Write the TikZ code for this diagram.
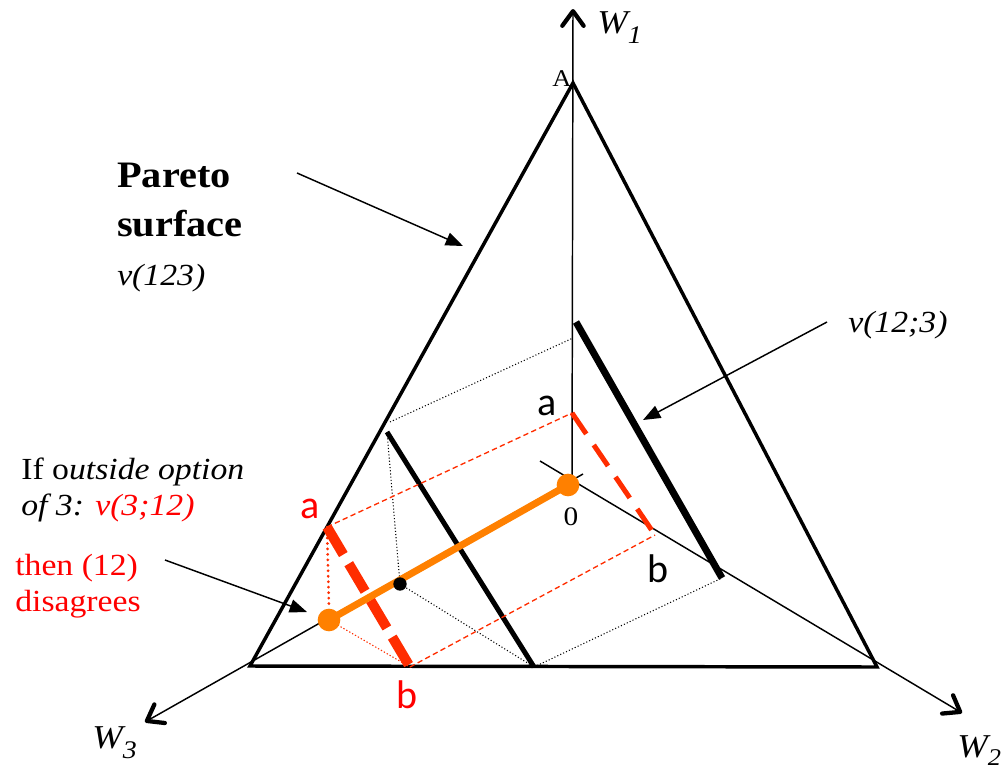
\documentclass[tikz,border=0pt]{standalone}
\usepackage{fontspec}
\setmainfont{Liberation Serif}[FakeStretch=1.1]
\newfontfamily\boldser{Liberation Serif}[FakeStretch=1.08]
\newfontfamily\sansf{Carlito}
\usetikzlibrary{arrows.meta}
\definecolor{txtred}{RGB}{255,0,0}
\definecolor{dashred}{RGB}{255,45,0}
\definecolor{orng}{RGB}{255,128,0}
\begin{document}
\begin{tikzpicture}[x=0.75pt,y=-0.75pt,
  axis/.style={line width=1.1pt,-{Straight Barb[length=11pt,width=16pt,line width=3.2pt,line cap=round,line join=round]}},
  pointer/.style={line width=1.1pt,-{Triangle[length=13pt,width=10pt]}},
  edgeline/.style={line width=2.6pt,line join=miter},
  dotline/.style={line width=0.8pt,dash pattern=on 0.8pt off 1.6pt},
  thinred/.style={dashred,line width=1pt,dash pattern=on 4pt off 2.5pt},
  ser/.style={font=\fontsize{23}{27}\selectfont},
  sans/.style={font=\sansf\fontsize{30}{34}\selectfont},
  wlab/.style={font=\fontsize{25}{28}\selectfont\itshape},
]
\useasboundingbox (0,0) rectangle (1003,771);
% coordinates
\coordinate (O) at (572,480);
\coordinate (A) at (573,83);
\coordinate (L) at (250,666);
\coordinate (R) at (877,667);
\coordinate (W1) at (573,9);
\coordinate (W2) at (962,713);
\coordinate (W3) at (145,722);
\coordinate (W2b) at (540,461);
\coordinate (W3b) at (583,474);
\coordinate (d1) at (390,422);
\coordinate (d2) at (573,338);
\coordinate (p1) at (387,432);
\coordinate (p2) at (534,667);
\coordinate (q1) at (576,322);
\coordinate (q2) at (722,578);
\coordinate (bd) at (400,584);
\coordinate (ra) at (327,527);
\coordinate (rb) at (410,667);
\coordinate (ra2) at (572,413);
\coordinate (rb2) at (655,535);
\coordinate (rv) at (329,608);
\coordinate (od1) at (329,620);
\coordinate (od2) at (568,485);
\coordinate (pt1) at (297,173);
\coordinate (ph1) at (463,246);
\coordinate (pt2) at (827,322);
\coordinate (ph2) at (643,420);
\coordinate (pt3) at (165,560);
\coordinate (ph3) at (307,612);
% triangle
\draw[edgeline] (A) -- (L) -- (R) -- cycle;
% axes
\draw[axis] (O) -- (W1);
\draw[axis] (W2b) -- (W2);
\draw[axis] (W3b) -- (W3);
% dotted box
\draw[dotline] (d1) -- (d2);
\draw[dotline] (p1) -- (bd) -- (p2) -- (q2);
% thick black lines
\draw[line width=3.75pt] (p1) -- (p2);
\draw[line width=5.25pt] (q1) -- (q2);
% red lines
\draw[thinred] (ra) -- (ra2);
\draw[thinred] (rb) -- (rb2);
\draw[dashred,line width=2.2pt,dash pattern=on 0.1pt off 4pt,line cap=round] (ra) -- (rv);
\draw[dashred,line width=0.8pt,dash pattern=on 1pt off 1.5pt] (od1) -- (rb);
\draw[dashred,line width=7.5pt,dash pattern=on 24pt off 8pt] (ra) -- (rb);
\draw[dashred,line width=3.75pt,dash pattern=on 19pt off 10pt] (ra2) -- (rb2);
% orange
\draw[orng,line width=5.25pt] (od1) -- (od2);
\fill[orng] (od1) circle (8.5pt);
\fill[orng] (od2) circle (8.5pt);
\fill[black] (bd) circle (5pt);
% pointers
\draw[pointer] (pt1) -- (ph1);
\draw[pointer] (pt2) -- (ph2);
\draw[pointer] (pt3) -- (ph3);
% labels
\node[wlab,anchor=base west,inner sep=0pt] (lw1) at (597,33) {W\raisebox{-7.5pt}{\fontsize{19}{19}\selectfont 1}};
\node[wlab,anchor=base west,inner sep=0pt] (lw3) at (92,748) {W\raisebox{-7.5pt}{\fontsize{19}{19}\selectfont 3}};
\node[wlab,anchor=base west,inner sep=0pt] (lw2) at (957,757) {W\raisebox{-6.5pt}{\fontsize{18}{18}\selectfont 2}};
\node[anchor=base,inner sep=0pt,font=\fontsize{18}{20}\selectfont] (lA) at (562,86) {A};
\node[anchor=base west,inner sep=0pt,font=\boldser\bfseries\fontsize{28}{32}\selectfont] (par1) at (117,187) {Pareto};
\node[anchor=base west,inner sep=0pt,font=\boldser\bfseries\fontsize{28}{32}\selectfont] (par2) at (117,236) {surface};
\node[ser,anchor=base west,inner sep=0pt] (v123) at (117,285) {\textit{v(123)}};
\node[ser,anchor=base west,inner sep=0pt] (v123b) at (848,332) {\textit{v(12;3)}};
\node[ser,anchor=base west,inner sep=0pt] (if1) at (21,479) {If o\textit{utside option}};
\node[ser,anchor=base west,inner sep=0pt] (if2) at (21,515) {\textit{of 3:} \textcolor{txtred}{\textit{v(3;12)}}};
\node[ser,anchor=base west,inner sep=0pt,text=txtred] (th1) at (15,575) {then (12)};
\node[ser,anchor=base west,inner sep=0pt,text=txtred] (th2) at (15,611) {disagrees};
\node[sans,anchor=base,inner sep=0pt] (la) at (547,415) {a};
\node[sans,anchor=base,inner sep=0pt] (lb) at (658,582) {b};
\node[sans,anchor=base,inner sep=0pt,text=txtred] (lra) at (310,518) {a};
\node[sans,anchor=base,inner sep=0pt,text=txtred] (lrb) at (407,708) {b};
\node[anchor=base,inner sep=0pt,font=\fontsize{20}{22}\selectfont] (l0) at (571,525) {0};
\end{tikzpicture}
\end{document}
